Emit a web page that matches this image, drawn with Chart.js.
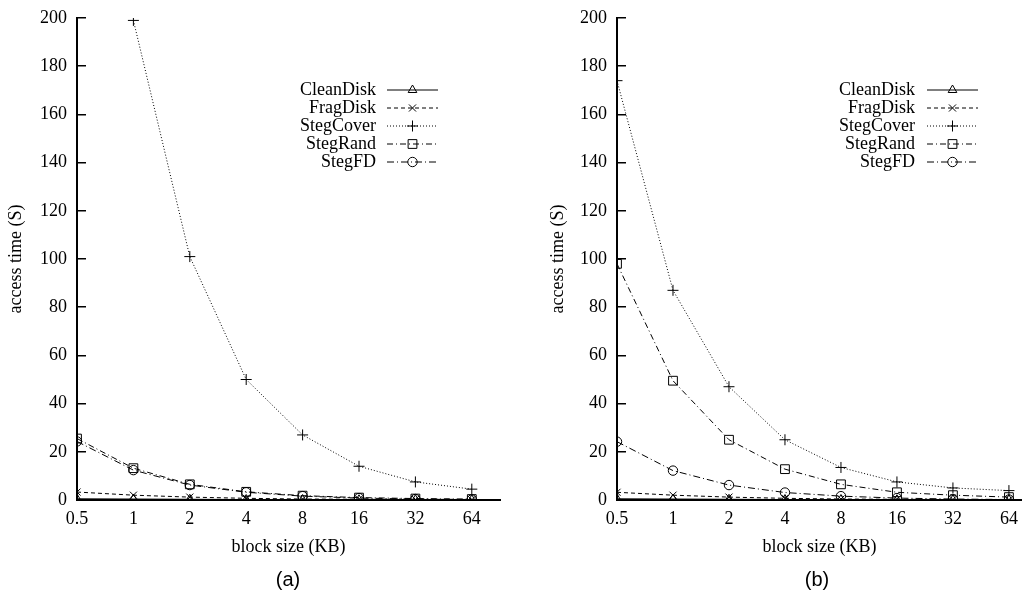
<!DOCTYPE html>
<html>
<head>
<meta charset="utf-8">
<script src="https://cdn.jsdelivr.net/npm/chart.js@4.4.1/dist/chart.umd.min.js"></script>
<style>
  body { margin: 0; background: #fff; width: 1029px; height: 593px; position: relative; overflow: hidden; }
  canvas { position: absolute; top: 0; }
  .caption { position: absolute; top: 567px; width: 60px; margin-left: -30px; text-align: center;
             font: 20px "Liberation Sans", Arial, sans-serif; color: #000; line-height: 24px; }
</style>
</head>
<body>
<canvas id="chart-a" width="515" height="593" style="left:0"></canvas>
<canvas id="chart-b" width="514" height="593" style="left:515px"></canvas>
<div class="caption" style="left:288px">(a)</div>
<div class="caption" style="left:817px">(b)</div>
<script>
// block sizes on the x axis
const blockSizes = ["0.5", "1", "2", "4", "8", "16", "32", "64"];
const seriesNames = ["CleanDisk", "FragDisk", "StegCover", "StegRand", "StegFD"];

// panel (a)
const cleanA = [0.5, 0.4, 0.3, 0.2, 0.2, 0.1, 0.1, 0.1];
const fragA = [3.3, 2.0, 1.2, 0.7, 0.4, 0.3, 0.2, 0.1];
const coverA = [null, 199, 101, 50, 27, 14, 7.5, 4.5];
const randA = [25.5, 13.2, 6.5, 3.4, 1.8, 1.0, 0.6, 0.4];
const fdA = [24.3, 12.4, 6.2, 3.2, 1.6, 0.8, 0.4, 0.2];

// panel (b)
const cleanB = [0.5, 0.4, 0.3, 0.2, 0.2, 0.1, 0.1, 0.1];
const fragB = [3.2, 2.0, 1.2, 0.7, 0.4, 0.3, 0.2, 0.1];
const coverB = [174, 87, 47, 25, 13.5, 7.5, 5, 3.9];
const randB = [98, 49.5, 25, 12.8, 6.5, 3.2, 2.0, 1.2];
const fdB = [24.2, 12.2, 6.2, 3.1, 1.6, 0.8, 0.4, 0.2];

const FONT = '"Liberation Serif", "Times New Roman", serif';

// gnuplot-like line types and marker shapes
const lineStyles = [
  { dash: [], point: "triangle", r: 5 },
  { dash: [4, 3], point: "crossRot", r: 5 },
  { dash: [1, 2], point: "cross", r: 5.5 },
  { dash: [6, 3, 1, 3], point: "rect", r: 6.2 },
  { dash: [7, 3, 1, 3], point: "circle", r: 4.7 },
];

// legend drawn in gnuplot style: label right-aligned, sample on the right
const gnuLegend = {
  id: "gnuLegend",
  afterDatasetsDraw(chart, args, opts) {
    const ctx = chart.ctx;
    ctx.save();
    ctx.font = "18px " + FONT;
    ctx.textAlign = "right";
    ctx.textBaseline = "middle";
    chart.data.datasets.forEach((ds, i) => {
      const y = opts.top + i * opts.rowH;
      ctx.fillStyle = "#000";
      ctx.fillText(ds.label, opts.textRight, y);
      ctx.strokeStyle = "#000";
      ctx.lineWidth = 1;
      ctx.setLineDash(ds.borderDash);
      ctx.beginPath();
      ctx.moveTo(opts.sampleLeft, y);
      ctx.lineTo(opts.sampleRight, y);
      ctx.stroke();
      ctx.setLineDash([]);
      ctx.fillStyle = "rgba(0,0,0,0)";
      Chart.helpers.drawPoint(ctx, {
        pointStyle: ds.pointStyle, radius: ds.pointRadius, rotation: 0, borderWidth: 1
      }, (opts.sampleLeft + opts.sampleRight) / 2, y);
    });
    ctx.restore();
  }
};

function makeChart(id, values, cfg) {
  const datasets = values.map((vals, i) => ({
    label: seriesNames[i],
    data: vals.map((v, k) => ({ x: k, y: v })),
    borderColor: "#000",
    backgroundColor: "rgba(0,0,0,0)",
    borderWidth: 1,
    borderDash: lineStyles[i].dash,
    pointStyle: lineStyles[i].point,
    pointRadius: lineStyles[i].r,
    pointBorderWidth: 1,
    pointBorderColor: "#000",
    pointBackgroundColor: "rgba(0,0,0,0)",
    tension: 0,
    spanGaps: false,
  }));

  return new Chart(document.getElementById(id), {
    type: "line",
    data: { datasets: datasets },
    plugins: [gnuLegend],
    options: {
      responsive: false,
      animation: false,
      layout: { padding: { top: 18, right: cfg.rightPad, left: 0, bottom: 0 } },
      plugins: {
        legend: { display: false },
        tooltip: { enabled: false },
        gnuLegend: cfg.legend,
      },
      scales: {
        x: {
          type: "linear",
          min: 0,
          max: cfg.xMax,
          afterFit: (s) => { s.height = 93; s.paddingLeft = 0; s.paddingRight = 0; },
          grid: { display: false, drawTicks: false },
          border: { display: true, color: "#000", width: 2 },
          ticks: {
            stepSize: 1,
            includeBounds: false,
            padding: 8,
            color: "#000",
            font: { family: FONT, size: 18 },
            callback: (v) => (Number.isInteger(v) ? blockSizes[v] : ""),
          },
          title: {
            display: true,
            text: "block size (KB)",
            color: "#000",
            font: { family: FONT, size: 18 },
            padding: { top: 0, bottom: 35 },
          },
        },
        y: {
          min: 0,
          max: 200,
          afterFit: (s) => { s.width = cfg.yWidth; s.paddingTop = 0; s.paddingBottom = 0; },
          // inward tick marks like gnuplot
          grid: { drawOnChartArea: false, drawTicks: true, tickLength: -9, color: "#000", lineWidth: 1.5 },
          border: { display: true, color: "#000", width: 2 },
          ticks: {
            stepSize: 20,
            padding: 19,
            color: "#000",
            font: { family: FONT, size: 18 },
          },
          title: {
            display: true,
            text: "access time (S)",
            color: "#000",
            font: { family: FONT, size: 18 },
            padding: { top: cfg.yTitlePad, bottom: 0 },
          },
        },
      },
    },
  });
}

makeChart("chart-a", [cleanA, fragA, coverA, randA, fdA], {
  rightPad: 15, xMax: 7.5, yWidth: 77, yTitlePad: 5,
  legend: { top: 90, rowH: 18, textRight: 376, sampleLeft: 387, sampleRight: 438 },
});

makeChart("chart-b", [cleanB, fragB, coverB, randB, fdB], {
  rightPad: 0, xMax: 7.23, yWidth: 102, yTitlePad: 32,
  legend: { top: 90, rowH: 18, textRight: 400, sampleLeft: 412, sampleRight: 463 },
});
</script>
</body>
</html>
